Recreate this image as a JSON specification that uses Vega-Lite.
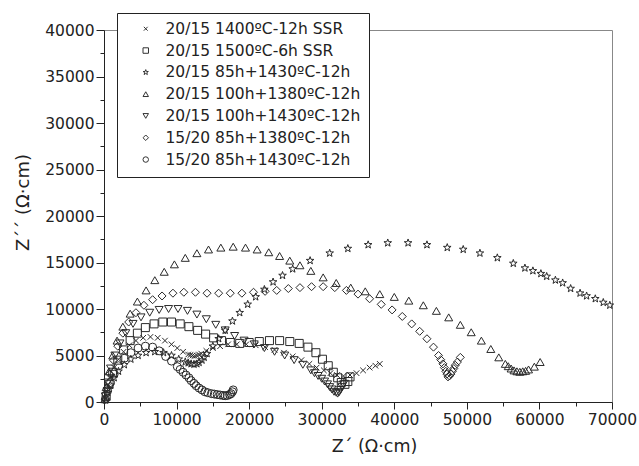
{
  "$schema": "https://vega.github.io/schema/vega-lite/v6.json",
  "width": 508,
  "height": 372,
  "autosize": "none",
  "padding": {"left": 104, "top": 30, "right": 27, "bottom": 64},
  "background": "white",
  "config": {
    "view": {"stroke": "#888", "strokeWidth": 1},
    "font": "DejaVu Sans"
  },
  "data": {
    "values": [
      {"s":"20/15 1400ºC-12h SSR","x":200,"y":400},{"s":"20/15 1400ºC-12h SSR","x":500,"y":1600},{"s":"20/15 1400ºC-12h SSR","x":900,"y":2700},{"s":"20/15 1400ºC-12h SSR","x":1400,"y":3700},{"s":"20/15 1400ºC-12h SSR","x":2000,"y":4600},{"s":"20/15 1400ºC-12h SSR","x":2700,"y":5400},{"s":"20/15 1400ºC-12h SSR","x":3500,"y":6100},{"s":"20/15 1400ºC-12h SSR","x":4400,"y":6600},{"s":"20/15 1400ºC-12h SSR","x":5400,"y":6900},{"s":"20/15 1400ºC-12h SSR","x":6400,"y":7000},{"s":"20/15 1400ºC-12h SSR","x":7400,"y":6900},{"s":"20/15 1400ºC-12h SSR","x":8400,"y":6600},{"s":"20/15 1400ºC-12h SSR","x":9300,"y":6200},{"s":"20/15 1400ºC-12h SSR","x":10100,"y":5800},{"s":"20/15 1400ºC-12h SSR","x":10900,"y":5400},{"s":"20/15 1400ºC-12h SSR","x":11600,"y":5100},{"s":"20/15 1400ºC-12h SSR","x":11900,"y":5050},{"s":"20/15 1400ºC-12h SSR","x":12200,"y":5000},{"s":"20/15 1400ºC-12h SSR","x":12500,"y":4950},{"s":"20/15 1400ºC-12h SSR","x":12800,"y":5000},{"s":"20/15 1400ºC-12h SSR","x":13100,"y":5100},{"s":"20/15 1400ºC-12h SSR","x":13400,"y":5200},{"s":"20/15 1400ºC-12h SSR","x":14100,"y":5500},{"s":"20/15 1400ºC-12h SSR","x":15000,"y":5800},{"s":"20/15 1400ºC-12h SSR","x":16000,"y":6000},{"s":"20/15 1400ºC-12h SSR","x":17100,"y":6200},{"s":"20/15 1400ºC-12h SSR","x":18300,"y":6200},{"s":"20/15 1400ºC-12h SSR","x":19600,"y":6200},{"s":"20/15 1400ºC-12h SSR","x":20900,"y":6100},{"s":"20/15 1400ºC-12h SSR","x":22200,"y":5900},{"s":"20/15 1400ºC-12h SSR","x":23500,"y":5600},{"s":"20/15 1400ºC-12h SSR","x":24800,"y":5300},{"s":"20/15 1400ºC-12h SSR","x":26000,"y":4900},{"s":"20/15 1400ºC-12h SSR","x":27200,"y":4500},{"s":"20/15 1400ºC-12h SSR","x":28300,"y":4100},{"s":"20/15 1400ºC-12h SSR","x":29300,"y":3700},{"s":"20/15 1400ºC-12h SSR","x":30300,"y":3400},{"s":"20/15 1400ºC-12h SSR","x":31200,"y":3100},{"s":"20/15 1400ºC-12h SSR","x":32100,"y":2900},{"s":"20/15 1400ºC-12h SSR","x":33000,"y":2800},{"s":"20/15 1400ºC-12h SSR","x":33900,"y":2900},{"s":"20/15 1400ºC-12h SSR","x":34800,"y":3100},{"s":"20/15 1400ºC-12h SSR","x":35700,"y":3400},{"s":"20/15 1400ºC-12h SSR","x":36600,"y":3700},{"s":"20/15 1400ºC-12h SSR","x":37400,"y":3900},{"s":"20/15 1400ºC-12h SSR","x":38000,"y":4100},

      {"s":"20/15 1500ºC-6h SSR","x":300,"y":600},{"s":"20/15 1500ºC-6h SSR","x":700,"y":1900},{"s":"20/15 1500ºC-6h SSR","x":1200,"y":3200},{"s":"20/15 1500ºC-6h SSR","x":1900,"y":4500},{"s":"20/15 1500ºC-6h SSR","x":2700,"y":5600},{"s":"20/15 1500ºC-6h SSR","x":3600,"y":6600},{"s":"20/15 1500ºC-6h SSR","x":4600,"y":7400},{"s":"20/15 1500ºC-6h SSR","x":5700,"y":8000},{"s":"20/15 1500ºC-6h SSR","x":6900,"y":8400},{"s":"20/15 1500ºC-6h SSR","x":8100,"y":8600},{"s":"20/15 1500ºC-6h SSR","x":9300,"y":8600},{"s":"20/15 1500ºC-6h SSR","x":10500,"y":8400},{"s":"20/15 1500ºC-6h SSR","x":11700,"y":8100},{"s":"20/15 1500ºC-6h SSR","x":12900,"y":7700},{"s":"20/15 1500ºC-6h SSR","x":14000,"y":7300},{"s":"20/15 1500ºC-6h SSR","x":15100,"y":6900},{"s":"20/15 1500ºC-6h SSR","x":16200,"y":6600},{"s":"20/15 1500ºC-6h SSR","x":17400,"y":6400},{"s":"20/15 1500ºC-6h SSR","x":18700,"y":6300},{"s":"20/15 1500ºC-6h SSR","x":20000,"y":6400},{"s":"20/15 1500ºC-6h SSR","x":21400,"y":6500},{"s":"20/15 1500ºC-6h SSR","x":22800,"y":6600},{"s":"20/15 1500ºC-6h SSR","x":24200,"y":6600},{"s":"20/15 1500ºC-6h SSR","x":25600,"y":6500},{"s":"20/15 1500ºC-6h SSR","x":26900,"y":6300},{"s":"20/15 1500ºC-6h SSR","x":28100,"y":5900},{"s":"20/15 1500ºC-6h SSR","x":29200,"y":5300},{"s":"20/15 1500ºC-6h SSR","x":30100,"y":4600},{"s":"20/15 1500ºC-6h SSR","x":30900,"y":3900},{"s":"20/15 1500ºC-6h SSR","x":31600,"y":3200},{"s":"20/15 1500ºC-6h SSR","x":32200,"y":2600},{"s":"20/15 1500ºC-6h SSR","x":32700,"y":2100},{"s":"20/15 1500ºC-6h SSR","x":33200,"y":1900},{"s":"20/15 1500ºC-6h SSR","x":33600,"y":2200},{"s":"20/15 1500ºC-6h SSR","x":33900,"y":2700},

      {"s":"20/15 85h+1430ºC-12h","x":200,"y":200},{"s":"20/15 85h+1430ºC-12h","x":500,"y":1000},{"s":"20/15 85h+1430ºC-12h","x":900,"y":1800},{"s":"20/15 85h+1430ºC-12h","x":1400,"y":2600},{"s":"20/15 85h+1430ºC-12h","x":2000,"y":3300},{"s":"20/15 85h+1430ºC-12h","x":2800,"y":4000},{"s":"20/15 85h+1430ºC-12h","x":3700,"y":4600},{"s":"20/15 85h+1430ºC-12h","x":4700,"y":5000},{"s":"20/15 85h+1430ºC-12h","x":5800,"y":5300},{"s":"20/15 85h+1430ºC-12h","x":7000,"y":5400},{"s":"20/15 85h+1430ºC-12h","x":8200,"y":5300},{"s":"20/15 85h+1430ºC-12h","x":9300,"y":5000},{"s":"20/15 85h+1430ºC-12h","x":10300,"y":4600},{"s":"20/15 85h+1430ºC-12h","x":11200,"y":4300},{"s":"20/15 85h+1430ºC-12h","x":11600,"y":4200},{"s":"20/15 85h+1430ºC-12h","x":12000,"y":4100},{"s":"20/15 85h+1430ºC-12h","x":12400,"y":4050},{"s":"20/15 85h+1430ºC-12h","x":12800,"y":4100},{"s":"20/15 85h+1430ºC-12h","x":13100,"y":4250},{"s":"20/15 85h+1430ºC-12h","x":13500,"y":4500},{"s":"20/15 85h+1430ºC-12h","x":13800,"y":4800},{"s":"20/15 85h+1430ºC-12h","x":14200,"y":5200},{"s":"20/15 85h+1430ºC-12h","x":15000,"y":6000},{"s":"20/15 85h+1430ºC-12h","x":15800,"y":6800},{"s":"20/15 85h+1430ºC-12h","x":16700,"y":7700},{"s":"20/15 85h+1430ºC-12h","x":17700,"y":8700},{"s":"20/15 85h+1430ºC-12h","x":18700,"y":9600},{"s":"20/15 85h+1430ºC-12h","x":19800,"y":10500},{"s":"20/15 85h+1430ºC-12h","x":20900,"y":11300},{"s":"20/15 85h+1430ºC-12h","x":22100,"y":12100},{"s":"20/15 85h+1430ºC-12h","x":23300,"y":12900},{"s":"20/15 85h+1430ºC-12h","x":24600,"y":13600},{"s":"20/15 85h+1430ºC-12h","x":26000,"y":14300},{"s":"20/15 85h+1430ºC-12h","x":28400,"y":15200},{"s":"20/15 85h+1430ºC-12h","x":31100,"y":16000},{"s":"20/15 85h+1430ºC-12h","x":33600,"y":16500},{"s":"20/15 85h+1430ºC-12h","x":36400,"y":16900},{"s":"20/15 85h+1430ºC-12h","x":39100,"y":17100},{"s":"20/15 85h+1430ºC-12h","x":41900,"y":17100},{"s":"20/15 85h+1430ºC-12h","x":44500,"y":16900},{"s":"20/15 85h+1430ºC-12h","x":47300,"y":16600},{"s":"20/15 85h+1430ºC-12h","x":49500,"y":16400},{"s":"20/15 85h+1430ºC-12h","x":51800,"y":16000},{"s":"20/15 85h+1430ºC-12h","x":54200,"y":15500},{"s":"20/15 85h+1430ºC-12h","x":56400,"y":14900},{"s":"20/15 85h+1430ºC-12h","x":58000,"y":14400},{"s":"20/15 85h+1430ºC-12h","x":59100,"y":14100},{"s":"20/15 85h+1430ºC-12h","x":60200,"y":13800},{"s":"20/15 85h+1430ºC-12h","x":61000,"y":13500},{"s":"20/15 85h+1430ºC-12h","x":62200,"y":13100},{"s":"20/15 85h+1430ºC-12h","x":63200,"y":12800},{"s":"20/15 85h+1430ºC-12h","x":64300,"y":12200},{"s":"20/15 85h+1430ºC-12h","x":65600,"y":11700},{"s":"20/15 85h+1430ºC-12h","x":66500,"y":11400},{"s":"20/15 85h+1430ºC-12h","x":67700,"y":11100},{"s":"20/15 85h+1430ºC-12h","x":68800,"y":10700},{"s":"20/15 85h+1430ºC-12h","x":69700,"y":10400},

      {"s":"20/15 100h+1380ºC-12h","x":100,"y":300},{"s":"20/15 100h+1380ºC-12h","x":300,"y":1600},{"s":"20/15 100h+1380ºC-12h","x":700,"y":3300},{"s":"20/15 100h+1380ºC-12h","x":1200,"y":5000},{"s":"20/15 100h+1380ºC-12h","x":1800,"y":6600},{"s":"20/15 100h+1380ºC-12h","x":2600,"y":8100},{"s":"20/15 100h+1380ºC-12h","x":3600,"y":9500},{"s":"20/15 100h+1380ºC-12h","x":4600,"y":10800},{"s":"20/15 100h+1380ºC-12h","x":5800,"y":12000},{"s":"20/15 100h+1380ºC-12h","x":7000,"y":13100},{"s":"20/15 100h+1380ºC-12h","x":8300,"y":14000},{"s":"20/15 100h+1380ºC-12h","x":9700,"y":14800},{"s":"20/15 100h+1380ºC-12h","x":11200,"y":15500},{"s":"20/15 100h+1380ºC-12h","x":12800,"y":16000},{"s":"20/15 100h+1380ºC-12h","x":14400,"y":16400},{"s":"20/15 100h+1380ºC-12h","x":16100,"y":16600},{"s":"20/15 100h+1380ºC-12h","x":17800,"y":16700},{"s":"20/15 100h+1380ºC-12h","x":19500,"y":16600},{"s":"20/15 100h+1380ºC-12h","x":21100,"y":16400},{"s":"20/15 100h+1380ºC-12h","x":22700,"y":16100},{"s":"20/15 100h+1380ºC-12h","x":24200,"y":15700},{"s":"20/15 100h+1380ºC-12h","x":25600,"y":15200},{"s":"20/15 100h+1380ºC-12h","x":27000,"y":14700},{"s":"20/15 100h+1380ºC-12h","x":28500,"y":14100},{"s":"20/15 100h+1380ºC-12h","x":30200,"y":13400},{"s":"20/15 100h+1380ºC-12h","x":32000,"y":12800},{"s":"20/15 100h+1380ºC-12h","x":34000,"y":12300},{"s":"20/15 100h+1380ºC-12h","x":36000,"y":11900},{"s":"20/15 100h+1380ºC-12h","x":38000,"y":11600},{"s":"20/15 100h+1380ºC-12h","x":40000,"y":11300},{"s":"20/15 100h+1380ºC-12h","x":42000,"y":10900},{"s":"20/15 100h+1380ºC-12h","x":44000,"y":10400},{"s":"20/15 100h+1380ºC-12h","x":45800,"y":9800},{"s":"20/15 100h+1380ºC-12h","x":47500,"y":9100},{"s":"20/15 100h+1380ºC-12h","x":49100,"y":8300},{"s":"20/15 100h+1380ºC-12h","x":50600,"y":7500},{"s":"20/15 100h+1380ºC-12h","x":52000,"y":6600},{"s":"20/15 100h+1380ºC-12h","x":53300,"y":5700},{"s":"20/15 100h+1380ºC-12h","x":54400,"y":4800},{"s":"20/15 100h+1380ºC-12h","x":55300,"y":4100},{"s":"20/15 100h+1380ºC-12h","x":55700,"y":3850},{"s":"20/15 100h+1380ºC-12h","x":56100,"y":3600},{"s":"20/15 100h+1380ºC-12h","x":56500,"y":3400},{"s":"20/15 100h+1380ºC-12h","x":56900,"y":3300},{"s":"20/15 100h+1380ºC-12h","x":57300,"y":3250},{"s":"20/15 100h+1380ºC-12h","x":57700,"y":3300},{"s":"20/15 100h+1380ºC-12h","x":58100,"y":3350},{"s":"20/15 100h+1380ºC-12h","x":58500,"y":3500},{"s":"20/15 100h+1380ºC-12h","x":59300,"y":3800},{"s":"20/15 100h+1380ºC-12h","x":60100,"y":4300},

      {"s":"20/15 100h+1430ºC-12h","x":200,"y":600},{"s":"20/15 100h+1430ºC-12h","x":500,"y":2100},{"s":"20/15 100h+1430ºC-12h","x":900,"y":3600},{"s":"20/15 100h+1430ºC-12h","x":1500,"y":5000},{"s":"20/15 100h+1430ºC-12h","x":2200,"y":6300},{"s":"20/15 100h+1430ºC-12h","x":3000,"y":7400},{"s":"20/15 100h+1430ºC-12h","x":4000,"y":8400},{"s":"20/15 100h+1430ºC-12h","x":5100,"y":9100},{"s":"20/15 100h+1430ºC-12h","x":6300,"y":9600},{"s":"20/15 100h+1430ºC-12h","x":7600,"y":9900},{"s":"20/15 100h+1430ºC-12h","x":8900,"y":10000},{"s":"20/15 100h+1430ºC-12h","x":10200,"y":10000},{"s":"20/15 100h+1430ºC-12h","x":11500,"y":9800},{"s":"20/15 100h+1430ºC-12h","x":12800,"y":9400},{"s":"20/15 100h+1430ºC-12h","x":14100,"y":8900},{"s":"20/15 100h+1430ºC-12h","x":15400,"y":8300},{"s":"20/15 100h+1430ºC-12h","x":16700,"y":7700},{"s":"20/15 100h+1430ºC-12h","x":18000,"y":7100},{"s":"20/15 100h+1430ºC-12h","x":19300,"y":6600},{"s":"20/15 100h+1430ºC-12h","x":20700,"y":6200},{"s":"20/15 100h+1430ºC-12h","x":22100,"y":5800},{"s":"20/15 100h+1430ºC-12h","x":23500,"y":5400},{"s":"20/15 100h+1430ºC-12h","x":24900,"y":5000},{"s":"20/15 100h+1430ºC-12h","x":26200,"y":4500},{"s":"20/15 100h+1430ºC-12h","x":27400,"y":4000},{"s":"20/15 100h+1430ºC-12h","x":28500,"y":3400},{"s":"20/15 100h+1430ºC-12h","x":29000,"y":3100},{"s":"20/15 100h+1430ºC-12h","x":29500,"y":2800},{"s":"20/15 100h+1430ºC-12h","x":30000,"y":2500},{"s":"20/15 100h+1430ºC-12h","x":30400,"y":2200},{"s":"20/15 100h+1430ºC-12h","x":30800,"y":1900},{"s":"20/15 100h+1430ºC-12h","x":31100,"y":1600},{"s":"20/15 100h+1430ºC-12h","x":31400,"y":1350},{"s":"20/15 100h+1430ºC-12h","x":31700,"y":1100},{"s":"20/15 100h+1430ºC-12h","x":32000,"y":1000},{"s":"20/15 100h+1430ºC-12h","x":32200,"y":900},{"s":"20/15 100h+1430ºC-12h","x":32400,"y":1050},{"s":"20/15 100h+1430ºC-12h","x":32600,"y":1300},{"s":"20/15 100h+1430ºC-12h","x":32800,"y":1600},{"s":"20/15 100h+1430ºC-12h","x":33000,"y":1900},

      {"s":"15/20 85h+1380ºC-12h","x":200,"y":300},{"s":"15/20 85h+1380ºC-12h","x":400,"y":1500},{"s":"15/20 85h+1380ºC-12h","x":800,"y":3000},{"s":"15/20 85h+1380ºC-12h","x":1300,"y":4500},{"s":"15/20 85h+1380ºC-12h","x":1900,"y":6000},{"s":"15/20 85h+1380ºC-12h","x":2600,"y":7400},{"s":"15/20 85h+1380ºC-12h","x":3400,"y":8600},{"s":"15/20 85h+1380ºC-12h","x":4400,"y":9600},{"s":"15/20 85h+1380ºC-12h","x":5500,"y":10400},{"s":"15/20 85h+1380ºC-12h","x":6700,"y":11000},{"s":"15/20 85h+1380ºC-12h","x":8000,"y":11400},{"s":"15/20 85h+1380ºC-12h","x":9500,"y":11700},{"s":"15/20 85h+1380ºC-12h","x":11000,"y":11800},{"s":"15/20 85h+1380ºC-12h","x":12600,"y":11800},{"s":"15/20 85h+1380ºC-12h","x":14200,"y":11700},{"s":"15/20 85h+1380ºC-12h","x":15800,"y":11700},{"s":"15/20 85h+1380ºC-12h","x":17400,"y":11700},{"s":"15/20 85h+1380ºC-12h","x":19000,"y":11700},{"s":"15/20 85h+1380ºC-12h","x":20600,"y":11800},{"s":"15/20 85h+1380ºC-12h","x":22200,"y":11900},{"s":"15/20 85h+1380ºC-12h","x":23800,"y":12000},{"s":"15/20 85h+1380ºC-12h","x":25400,"y":12200},{"s":"15/20 85h+1380ºC-12h","x":27000,"y":12300},{"s":"15/20 85h+1380ºC-12h","x":28600,"y":12400},{"s":"15/20 85h+1380ºC-12h","x":30200,"y":12400},{"s":"15/20 85h+1380ºC-12h","x":31800,"y":12300},{"s":"15/20 85h+1380ºC-12h","x":33400,"y":12000},{"s":"15/20 85h+1380ºC-12h","x":35000,"y":11600},{"s":"15/20 85h+1380ºC-12h","x":36600,"y":11100},{"s":"15/20 85h+1380ºC-12h","x":38200,"y":10500},{"s":"15/20 85h+1380ºC-12h","x":39700,"y":9900},{"s":"15/20 85h+1380ºC-12h","x":41100,"y":9200},{"s":"15/20 85h+1380ºC-12h","x":42400,"y":8400},{"s":"15/20 85h+1380ºC-12h","x":43500,"y":7600},{"s":"15/20 85h+1380ºC-12h","x":44500,"y":6800},{"s":"15/20 85h+1380ºC-12h","x":45400,"y":5900},{"s":"15/20 85h+1380ºC-12h","x":46100,"y":5000},{"s":"15/20 85h+1380ºC-12h","x":46400,"y":4550},{"s":"15/20 85h+1380ºC-12h","x":46700,"y":4100},{"s":"15/20 85h+1380ºC-12h","x":46900,"y":3700},{"s":"15/20 85h+1380ºC-12h","x":47100,"y":3300},{"s":"15/20 85h+1380ºC-12h","x":47250,"y":3000},{"s":"15/20 85h+1380ºC-12h","x":47400,"y":2700},{"s":"15/20 85h+1380ºC-12h","x":47600,"y":2800},{"s":"15/20 85h+1380ºC-12h","x":47800,"y":3000},{"s":"15/20 85h+1380ºC-12h","x":48000,"y":3300},{"s":"15/20 85h+1380ºC-12h","x":48200,"y":3600},{"s":"15/20 85h+1380ºC-12h","x":48400,"y":3950},{"s":"15/20 85h+1380ºC-12h","x":48700,"y":4300},{"s":"15/20 85h+1380ºC-12h","x":49100,"y":4800},

      {"s":"15/20 85h+1430ºC-12h","x":200,"y":300},{"s":"15/20 85h+1430ºC-12h","x":500,"y":1200},{"s":"15/20 85h+1430ºC-12h","x":900,"y":2100},{"s":"15/20 85h+1430ºC-12h","x":1400,"y":3000},{"s":"15/20 85h+1430ºC-12h","x":2000,"y":3900},{"s":"15/20 85h+1430ºC-12h","x":2800,"y":4700},{"s":"15/20 85h+1430ºC-12h","x":3700,"y":5300},{"s":"15/20 85h+1430ºC-12h","x":4700,"y":5800},{"s":"15/20 85h+1430ºC-12h","x":5700,"y":6000},{"s":"15/20 85h+1430ºC-12h","x":6700,"y":5900},{"s":"15/20 85h+1430ºC-12h","x":7600,"y":5500},{"s":"15/20 85h+1430ºC-12h","x":8500,"y":4900},{"s":"15/20 85h+1430ºC-12h","x":9300,"y":4400},{"s":"15/20 85h+1430ºC-12h","x":10100,"y":3800},{"s":"15/20 85h+1430ºC-12h","x":10500,"y":3500},{"s":"15/20 85h+1430ºC-12h","x":10900,"y":3200},{"s":"15/20 85h+1430ºC-12h","x":11300,"y":2900},{"s":"15/20 85h+1430ºC-12h","x":11700,"y":2600},{"s":"15/20 85h+1430ºC-12h","x":12000,"y":2300},{"s":"15/20 85h+1430ºC-12h","x":12400,"y":2000},{"s":"15/20 85h+1430ºC-12h","x":12700,"y":1750},{"s":"15/20 85h+1430ºC-12h","x":13100,"y":1500},{"s":"15/20 85h+1430ºC-12h","x":13500,"y":1300},{"s":"15/20 85h+1430ºC-12h","x":13900,"y":1100},{"s":"15/20 85h+1430ºC-12h","x":14300,"y":1000},{"s":"15/20 85h+1430ºC-12h","x":14800,"y":900},{"s":"15/20 85h+1430ºC-12h","x":15200,"y":850},{"s":"15/20 85h+1430ºC-12h","x":15600,"y":800},{"s":"15/20 85h+1430ºC-12h","x":16000,"y":750},{"s":"15/20 85h+1430ºC-12h","x":16400,"y":700},{"s":"15/20 85h+1430ºC-12h","x":16700,"y":680},{"s":"15/20 85h+1430ºC-12h","x":17000,"y":700},{"s":"15/20 85h+1430ºC-12h","x":17300,"y":800},{"s":"15/20 85h+1430ºC-12h","x":17500,"y":900},{"s":"15/20 85h+1430ºC-12h","x":17700,"y":1100},{"s":"15/20 85h+1430ºC-12h","x":17800,"y":1300}
    ]
  },
  "mark": {"type": "point", "filled": false, "stroke": "#2a2a2a", "strokeWidth": 1, "size": 64, "opacity": 1},
  "encoding": {
    "x": {
      "field": "x", "type": "quantitative",
      "scale": {"domain": [0, 70000], "nice": false, "zero": true},
      "axis": {
        "values": [0,5000,10000,15000,20000,25000,30000,35000,40000,45000,50000,55000,60000,65000,70000],
        "format": "d",
        "labelExpr": "datum.value % 10000 === 0 ? datum.label : ''",
        "labelFlush": false, "labelOverlap": false, "grid": false,
        "tickSize": {"condition": {"test": "datum.value % 10000 !== 0", "value": 4}, "value": 7},
        "domainColor": "#222", "tickColor": "#222",
        "labelFontSize": 15.5, "labelColor": "#222", "labelPadding": 3,
        "title": "Z´ (Ω·cm)", "titleFontSize": 17.5, "titleFontWeight": "normal", "titleColor": "#222", "titlePadding": 10, "titleX": 270
      }
    },
    "y": {
      "field": "y", "type": "quantitative",
      "scale": {"domain": [0, 40000], "nice": false},
      "axis": {
        "values": [0,2500,5000,7500,10000,12500,15000,17500,20000,22500,25000,27500,30000,32500,35000,37500,40000],
        "format": "d",
        "labelExpr": "datum.value % 5000 === 0 ? datum.label : ''",
        "labelOverlap": false, "grid": false, "labelFlush": false,
        "tickSize": {"condition": {"test": "datum.value % 5000 !== 0", "value": 4}, "value": 8},
        "domainColor": "#222", "tickColor": "#222",
        "labelFontSize": 15.5, "labelColor": "#222", "labelPadding": 2,
        "title": "Z´´ (Ω·cm)", "titleFontSize": 18, "titleFontWeight": "normal", "titleColor": "#222", "titlePadding": 12, "titleY": 172
      }
    },
    "shape": {
      "field": "s", "type": "nominal",
      "scale": {
        "domain": ["20/15 1400ºC-12h SSR","20/15 1500ºC-6h SSR","20/15 85h+1430ºC-12h","20/15 100h+1380ºC-12h","20/15 100h+1430ºC-12h","15/20 85h+1380ºC-12h","15/20 85h+1430ºC-12h"],
        "range": ["M-0.7,-0.7L0.7,0.7M-0.7,0.7L0.7,-0.7","square","M0,-1L0.235,-0.324L0.951,-0.309L0.38,0.124L0.588,0.809L0,0.4L-0.588,0.809L-0.38,0.124L-0.951,-0.309L-0.235,-0.324Z","triangle-up","triangle-down","diamond","circle"]
      },
      "legend": {
        "title": null, "orient": "none", "legendX": 13, "legendY": -17,
        "strokeColor": "#222", "fillColor": "white", "padding": 8, "rowPadding": 4.8,
        "labelFont": "DejaVu Sans", "labelFontSize": 15.5, "labelColor": "#222", "labelLimit": 400,
        "symbolSize": 30, "symbolStrokeWidth": 1, "symbolStrokeColor": "#333", "symbolOffset": 13, "labelOffset": 12
      }
    }
  }
}
